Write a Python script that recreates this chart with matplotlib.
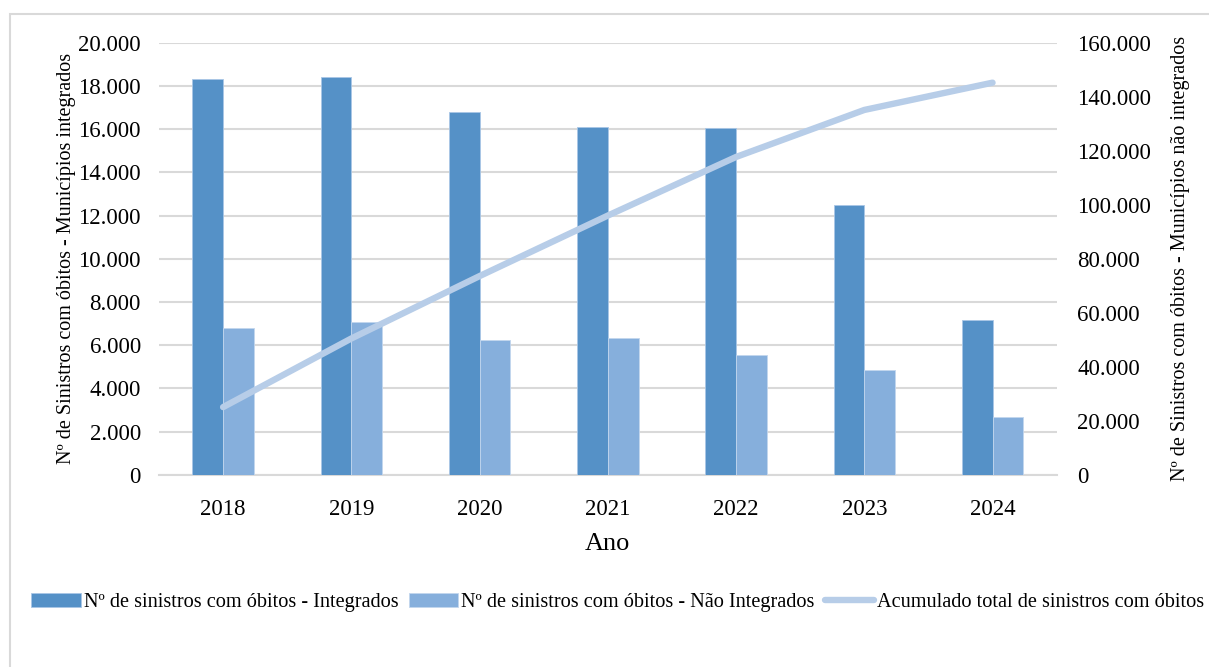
import numpy as np
import matplotlib.pyplot as plt
from matplotlib.patches import Rectangle
from matplotlib.ticker import FuncFormatter

plt.rcParams['font.family'] = ['Liberation Serif', 'DejaVu Serif']

anos = ['2018', '2019', '2020', '2021', '2022', '2023', '2024']
integrados = [18300, 18400, 16780, 16120, 16070, 12500, 7170]
nao_integrados = [6780, 7070, 6240, 6330, 5570, 4860, 2680]
acumulado = [25100, 50500, 73600, 96000, 117700, 135100, 145200]

cor_int = '#5591c7'
cor_nao = '#86afdc'
cor_acum = '#b7cde8'
cor_grade = '#d9d9d9'


def milhar(v, pos):
    return f'{int(v):,}'.replace(',', '.')


fig = plt.figure(figsize=(12.09, 6.67), dpi=100)
ax = fig.add_axes([0.1315, 0.288, 0.7425, 0.648])
ax2 = ax.twinx()

x = np.arange(len(anos))
w = 0.24
ax.bar(x - w / 2, integrados, w, color=cor_int, edgecolor='#a9c6e6', linewidth=0.6,
       label='Nº de sinistros com óbitos - Integrados', zorder=3)
ax.bar(x + w / 2, nao_integrados, w, color=cor_nao, edgecolor='#c2d6ee', linewidth=0.6,
       label='Nº de sinistros com óbitos - Não Integrados', zorder=3)
ax2.plot(x, acumulado, color=cor_acum, linewidth=4.6, solid_capstyle='round',
         label='Acumulado total de sinistros com óbitos', zorder=4)

ax.set_xlim(-0.5, len(anos) - 0.5)
ax.set_ylim(0, 20000)
ax2.set_ylim(0, 160000)
ax.set_yticks(np.arange(0, 20001, 2000))
ax2.set_yticks(np.arange(0, 160001, 20000))
ax.yaxis.set_major_formatter(FuncFormatter(milhar))
ax2.yaxis.set_major_formatter(FuncFormatter(milhar))
ax.set_xticks(x)
ax.set_xticklabels(anos)

ax.grid(axis='y', color=cor_grade, linewidth=1.5, zorder=0)
ax.set_axisbelow(True)
for a in (ax, ax2):
    for s in a.spines.values():
        s.set_visible(False)
    a.tick_params(length=0, labelsize=16.5)
ax.spines['bottom'].set_visible(True)
ax.spines['bottom'].set_color(cor_grade)
ax.spines['bottom'].set_linewidth(1.5)
ax.tick_params(axis='x', pad=17)
ax.tick_params(axis='y', pad=13)
ax2.tick_params(axis='y', pad=15)

ax.set_xlabel('Ano', fontsize=19, labelpad=10)
ax.set_ylabel('Nº de Sinistros com óbitos - Municípios integrados', fontsize=14.5, labelpad=2)
ax2.set_ylabel('Nº de Sinistros com óbitos - Municípios não integrados', fontsize=14.5,
               rotation=90, labelpad=14)

h1, l1 = ax.get_legend_handles_labels()
h2, l2 = ax2.get_legend_handles_labels()
fig.legend(h1 + h2, l1 + l2, loc='center', bbox_to_anchor=(0.511, 0.097), ncol=3,
           frameon=False, fontsize=14.6, handlelength=2.45, handleheight=0.75,
           handletextpad=0.15, columnspacing=0.5, borderpad=0, borderaxespad=0)

# moldura cinza em volta do gráfico
fig.patches.append(Rectangle((10 / 1209, -0.05), 1.1, 1 - 14 / 667 + 0.05,
                             transform=fig.transFigure, fill=False,
                             edgecolor=cor_grade, linewidth=1.5))

fig.savefig('out.png', dpi=100)
